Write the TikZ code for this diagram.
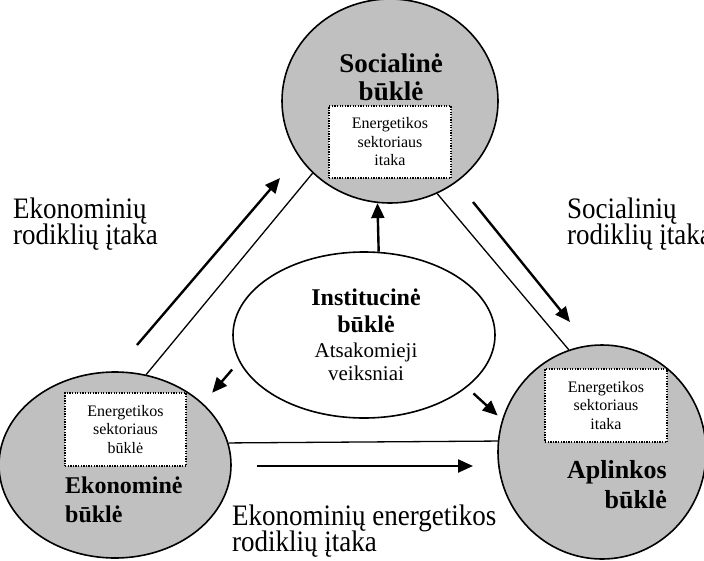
\documentclass[tikz,border=0pt]{standalone}
\usepackage{fontspec}
\setmainfont{Liberation Serif}
\usetikzlibrary{calc}
\usetikzlibrary{arrows.meta}
\usetikzlibrary{shapes.geometric}
\definecolor{stategray}{HTML}{C0C0C0}
\newcommand\tightlines{\lineskiplimit-100pt\relax}

\begin{document}
\begin{tikzpicture}[x=1pt, y=-1pt,
    state/.style = {ellipse, draw, line width=1.6pt, fill=stategray, inner sep=0pt},
    infobox/.style = {draw, fill=white, line width=1.3pt, dash pattern=on 1.3pt off 1.3pt,
      inner sep=0pt, align=center, font=\fontsize{16}{18.5}\selectfont},
    link/.style = {line width=1.3pt},
    flow/.style = {line width=2.4pt, -{Triangle[length=15pt, width=13pt]}},
    lbl/.style = {inner sep=0pt, anchor=base west, align=left, yscale=1.1, transform shape,
      font=\fontsize{27}{23}\selectfont\tightlines}]
    \usetikzlibrary {arrows.meta}
    \usetikzlibrary {calc}

    \useasboundingbox (0,0) rectangle (704,560);

    \node[state, minimum width=216pt, minimum height=204pt] (soc) at (390,101) {};
    \node[state, minimum width=232pt, minimum height=186pt] (eko) at (115,465) {};
    \node[state, minimum width=208pt, minimum height=214pt] (apl) at (602,452) {};
    \node[ellipse, draw, line width=1.6pt, fill=white, inner sep=0pt,
      minimum width=262pt, minimum height=166pt] (inst) at (364,335) {};

    \draw[link] (eko.71) -- (soc.223);
    \draw[link] (soc.297.6) -- (apl.108.8);
    \draw[link] (eko.11) -- (apl.174.5);

    \coordinate (ekoflowA) at (137,345);
    \coordinate (ekoflowB) at (280,178);
    \coordinate (socflowA) at (473,202);
    \coordinate (socflowB) at (570,322);
    \coordinate (engflowA) at (257,466);
    \coordinate (engflowB) at (473,466);

    \draw[flow] (ekoflowA) -- (ekoflowB);
    \draw[flow] (socflowA) -- (socflowB);
    \draw[flow] (engflowA) -- (engflowB);
    \draw[flow] (inst.80.4) -- (soc.263.3);
    \draw[flow, shorten <=10.5pt, shorten >=14pt] (inst.192.5) -- (eko.35.6);
    \draw[flow, shorten <=9pt, shorten >=6pt] (inst.333.2) -- (apl.162.8);

    \node[infobox, minimum width=122pt, minimum height=72pt] (socbox) at (390,142)
      {Energetikos\\sektoriaus\\itaka};
    \node[infobox, minimum width=121pt, minimum height=73pt] (ekobox) at (125.5,429.5)
      {Energetikos\\sektoriaus\\būklė};
    \node[infobox, minimum width=122pt, minimum height=73pt] (aplbox) at (606,405.5)
      {Energetikos\\sektoriaus\\itaka};

    \node[inner sep=0pt, anchor=base, align=center,
      font=\bfseries\fontsize{27}{28}\selectfont] (soctxt) at (391,100) {Socialinė\\būklė};
    \node[inner sep=0pt, anchor=base west, align=left,
      font=\bfseries\fontsize{24}{29}\selectfont] (ekotxt) at (65,522) {Ekonominė\\būklė};
    \node[inner sep=0pt, anchor=base east, align=right,
      font=\bfseries\fontsize{26}{30}\selectfont] (apltxt) at (667,508) {Aplinkos\\būklė};
    \node[inner sep=0pt, anchor=base, align=center,
      font=\bfseries\fontsize{24}{27}\selectfont] (insttxt) at (366,332) {Institucinė\\būklė};
    \node[inner sep=0pt, anchor=base, align=center,
      font=\fontsize{21}{23}\selectfont] (instsub) at (366,380) {Atsakomieji\\veiksniai};

    \node[lbl] (ekoinfl) at (13,244) {Ekonominių\\rodiklių įtaka};
    \node[lbl] (socinfl) at (567,244) {Socialinių\\rodiklių įtaka};
    \node[lbl] (enginfl) at (232,551) {Ekonominių energetikos\\rodiklių įtaka};

\end{tikzpicture}
\end{document}
